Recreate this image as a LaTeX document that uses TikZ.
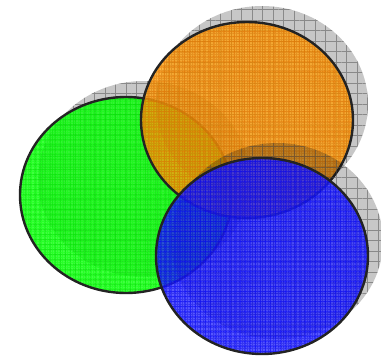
\documentclass[tikz,border=0pt]{standalone}
\usepackage{xcolor}
\usetikzlibrary{patterns.meta}
\definecolor{leafgreen}{RGB}{10,255,10}
\definecolor{sunorange}{RGB}{255,160,10}
\definecolor{deepblue}{RGB}{40,40,255}
\definecolor{rimgray}{RGB}{35,35,35}

\begin{document}
\begin{tikzpicture}[
      x=1bp, y=-1bp,
      shadowfill/.style={fill=black, fill opacity=0.22},
      shadowgrid/.style={pattern={Hatch[angle=0, distance=10.5bp, line width=0.7bp]},
                         pattern color=black!70, opacity=0.5},
      finegrid/.style={pattern={Hatch[angle=0, distance=2.6bp, line width=0.5bp]},
                       pattern color=#1, opacity=0.35},
      blob/.style={fill=#1, fill opacity=0.78},
      blobgrid/.style={pattern={Hatch[angle=0, distance=5.2bp, line width=0.7bp]},
                       pattern color=#1, opacity=0.6},
      rim/.style={draw=rimgray, line width=2.4bp}
    ]
    \useasboundingbox (0,0) rectangle (381,356);

    %% green
    \path[shadowfill] (144,179) ellipse [x radius=106, y radius=98];
    \path[shadowgrid] (144,179) ellipse [x radius=106, y radius=98];
    \path[blob=leafgreen] (126,195) ellipse [x radius=106, y radius=98];
    \path[finegrid=green] (126,195) ellipse [x radius=106, y radius=98];
    \path[blobgrid=green!85!black] (126,195) ellipse [x radius=106, y radius=98];
    \path[rim] (126,195) ellipse [x radius=106, y radius=98];

    %% orange
    \path[shadowfill] (262,104) ellipse [x radius=106, y radius=98];
    \path[shadowgrid] (262,104) ellipse [x radius=106, y radius=98];
    \path[blob=sunorange] (247,120) ellipse [x radius=106, y radius=98];
    \path[finegrid=orange!80!black] (247,120) ellipse [x radius=106, y radius=98];
    \path[blobgrid=orange!90!black] (247,120) ellipse [x radius=106, y radius=98];
    \path[rim] (247,120) ellipse [x radius=106, y radius=98];

    %% blue
    \path[shadowfill] (277,241) ellipse [x radius=106, y radius=98];
    \path[shadowgrid] (277,241) ellipse [x radius=106, y radius=98];
    \path[blob=deepblue] (262,256) ellipse [x radius=106, y radius=98];
    \path[finegrid=blue!80!black] (262,256) ellipse [x radius=106, y radius=98];
    \path[blobgrid=blue] (262,256) ellipse [x radius=106, y radius=98];
    \path[rim] (262,256) ellipse [x radius=106, y radius=98];
  \end{tikzpicture}
\end{document}
